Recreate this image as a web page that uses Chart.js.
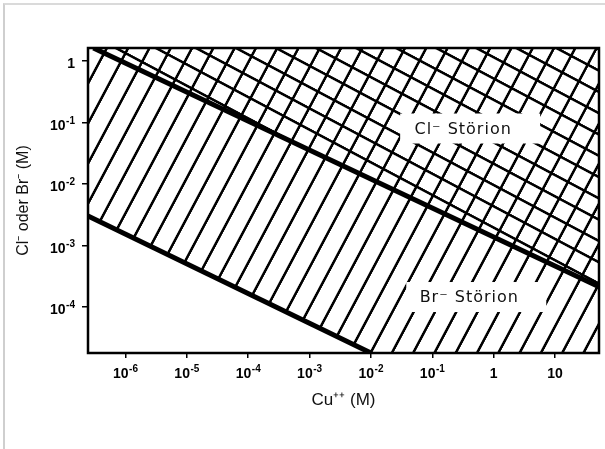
<!DOCTYPE html>
<html>
<head>
<meta charset="utf-8">
<script src="https://cdn.jsdelivr.net/npm/chart.js@4.4.1/dist/chart.umd.min.js"></script>
<style>
  html, body { margin: 0; padding: 0; background: #fff; }
  #wrap { position: relative; width: 605px; height: 449px; }
  #edge { position: absolute; left: 3px; top: 3px; right: 0; bottom: 0;
          border-left: 2px solid #cfcfcf; border-top: 2px solid #dadada; pointer-events: none; }
</style>
</head>
<body>
<div id="wrap">
  <canvas id="plot" width="605" height="449"></canvas>
  <div id="edge"></div>
</div>
<script>
(function () {
  'use strict';

  // axis ranges and decade ticks (label = base + superscript exponent)
  const cuRange = [2.45e-7, 52];
  const halideRange = [1.8e-5, 1.64];
  const cuTicks = [1e-6, 1e-5, 1e-4, 1e-3, 1e-2, 1e-1, 1, 10];
  const cuTickBase = ['10', '10', '10', '10', '10', '10', '1', '10'];
  const cuTickExp = ['-6', '-5', '-4', '-3', '-2', '-1', '', ''];
  const halideTicks = [1, 1e-1, 1e-2, 1e-3, 1e-4];
  const halideTickBase = ['1', '10', '10', '10', '10'];
  const halideTickExp = ['', '-1', '-2', '-3', '-4'];

  // upper boundary: above it Cl- interferes
  const clLineCu = [3.0e-7, 52];
  const clLineHalide = [1.64, 2.15e-4];
  // lower boundary: above it Br- interferes (region runs along the floor to the right edge)
  const brLineCu = [2.45e-7, 1e-2];
  const brLineHalide = [3.05e-3, 1.8e-5];
  const brFloorCu = [52];
  const brFloorHalide = [1.8e-5];

  const regionLabels = ['Cl⁻ Störion', 'Br⁻ Störion'];
  const regionLabelCu = [0.318, 0.40];
  const regionLabelHalide = [0.0775, 1.41e-4];

  const pts = (xs, ys) => xs.map((x, i) => ({ x, y: ys[i] }));

  const HATCH_GAP = 18.8;
  const HATCH_ANGLE = 28;
  const FONT = '"Liberation Sans", Arial, sans-serif';

  function hatch(vertical, phase) {
    const size = 38;
    const k = HATCH_GAP / size;
    const tile = document.createElement('canvas');
    tile.width = tile.height = size;
    const t = tile.getContext('2d');
    t.fillStyle = '#000';
    const p = phase / k;
    if (vertical) t.fillRect(p - 2.6, 0, 5.2, size);
    else t.fillRect(0, p - 2.6, size, 5.2);
    const pat = t.createPattern(tile, 'repeat');
    pat.setTransform(new DOMMatrix().rotate(HATCH_ANGLE).scale(k));
    return pat;
  }

  const diagHatch = hatch(true, 4.1);
  const crossHatch = hatch(false, 6.8);

  // "10" plus raised exponent, anchored at (x, baseline)
  function powerLabel(ctx, base, exp, x, y, align) {
    ctx.font = 'bold 14px ' + FONT;
    const wb = ctx.measureText(base).width;
    ctx.font = 'bold 10px ' + FONT;
    const we = exp ? ctx.measureText(exp).width + 0.5 : 0;
    const w = wb + we;
    const x0 = align === 'right' ? x - w : x - w / 2;
    ctx.textAlign = 'left';
    ctx.textBaseline = 'alphabetic';
    ctx.font = 'bold 14px ' + FONT;
    ctx.fillText(base, x0, y);
    if (exp) {
      ctx.font = 'bold 10px ' + FONT;
      ctx.fillText(exp, x0 + wb + 0.5, y - 6);
    }
  }

  const chartFrame = {
    id: 'chartFrame',
    afterDatasetsDraw(chart) {
      const { ctx, chartArea: a, scales } = chart;
      ctx.save();
      ctx.font = '16px "DejaVu Sans", sans-serif';
      ctx.letterSpacing = '1px';
      ctx.textAlign = 'center';
      ctx.textBaseline = 'middle';
      regionLabels.forEach((txt, i) => {
        const cx = scales.x.getPixelForValue(regionLabelCu[i]);
        const cy = scales.y.getPixelForValue(regionLabelHalide[i]);
        ctx.fillStyle = '#fff';
        ctx.fillRect(cx - 63, cy - 16, 140, 30);
        ctx.fillStyle = '#111';
        ctx.fillText(txt, cx, cy);
      });
      ctx.letterSpacing = '0px';
      ctx.strokeStyle = '#000';
      ctx.lineWidth = 2.5;
      ctx.strokeRect(a.left, a.top, a.right - a.left, a.bottom - a.top);
      ctx.restore();
    },
    afterDraw(chart) {
      const { ctx, chartArea: a, scales } = chart;
      ctx.save();
      ctx.fillStyle = '#000';
      scales.x.ticks.forEach((t, i) => {
        powerLabel(ctx, cuTickBase[i], cuTickExp[i], scales.x.getPixelForValue(t.value), a.bottom + 25, 'center');
      });
      scales.y.ticks.forEach((t, i) => {
        powerLabel(ctx, halideTickBase[i], halideTickExp[i], a.left - 13, scales.y.getPixelForValue(t.value) + 7, 'right');
      });
      ctx.restore();
    }
  };

  new Chart(document.getElementById('plot'), {
    type: 'line',
    data: {
      datasets: [
        { data: pts(clLineCu, clLineHalide), borderColor: '#000', borderWidth: 5, fill: false, clip: 0 },
        { data: pts(brLineCu, brLineHalide), borderColor: '#000', borderWidth: 5, fill: false, clip: 0 },
        { data: pts(clLineCu, clLineHalide), borderColor: 'rgba(0,0,0,0)', borderWidth: 0,
          fill: 'end', backgroundColor: crossHatch, clip: 0 },
        { data: pts(brLineCu.concat(brFloorCu), brLineHalide.concat(brFloorHalide)),
          borderColor: 'rgba(0,0,0,0)', borderWidth: 0, fill: 'end', backgroundColor: diagHatch, clip: 0 }
      ]
    },
    options: {
      responsive: false,
      animation: false,
      events: [],
      elements: { point: { radius: 0 }, line: { tension: 0 } },
      layout: { padding: { top: 48, right: 6, left: 0, bottom: 0 } },
      plugins: { legend: { display: false }, tooltip: { enabled: false } },
      scales: {
        x: {
          type: 'logarithmic',
          min: cuRange[0],
          max: cuRange[1],
          afterBuildTicks: s => { s.ticks = cuTicks.map(v => ({ value: v })); },
          afterFit: s => { s.height = 96; },
          ticks: { display: false, autoSkip: false },
          grid: { drawOnChartArea: false, tickLength: 5, color: '#000', lineWidth: 1.5 },
          border: { color: '#000', width: 2 },
          title: { display: true, text: 'Cu⁺⁺ (M)', color: '#111',
                   font: { family: FONT, size: 17 }, padding: { bottom: 38 } }
        },
        y: {
          type: 'logarithmic',
          min: halideRange[0],
          max: halideRange[1],
          afterBuildTicks: s => { s.ticks = halideTicks.map(v => ({ value: v })); },
          afterFit: s => { s.width = 88; },
          ticks: { display: false, autoSkip: false },
          grid: { drawOnChartArea: false, tickLength: 6, color: '#000', lineWidth: 1.5 },
          border: { color: '#000', width: 2 },
          title: { display: true, text: 'Cl⁻ oder Br⁻ (M)', color: '#111',
                   font: { family: FONT, size: 16 }, padding: { top: 14 } }
        }
      }
    },
    plugins: [chartFrame]
  });
})();
</script>
</body>
</html>
